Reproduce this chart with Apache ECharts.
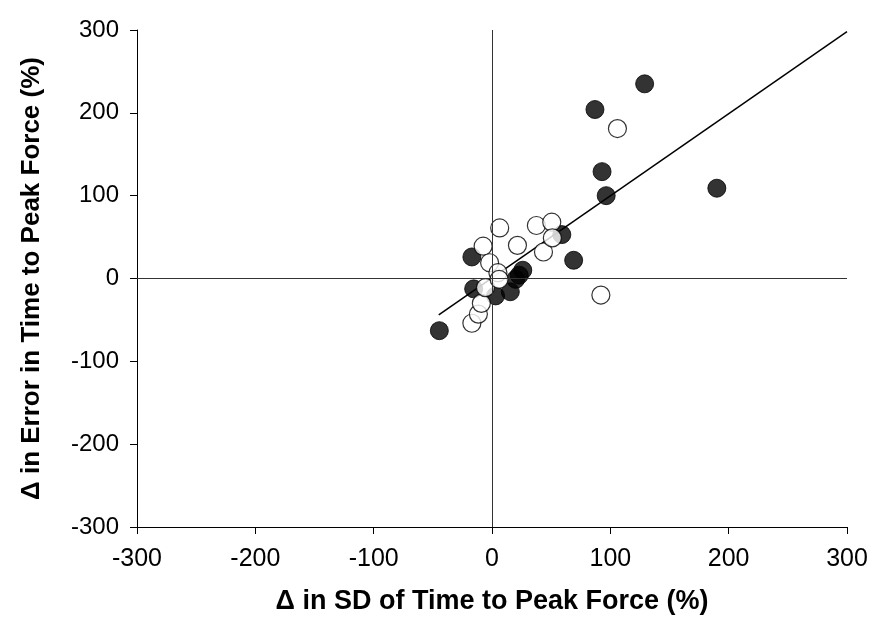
<!DOCTYPE html>
<html>
<head>
<meta charset="utf-8">
<script src="https://cdn.jsdelivr.net/npm/echarts@6/dist/echarts.min.js"></script>
<style>
html,body{margin:0;padding:0;background:#fff;}
#chart{width:875px;height:636px;}
</style>
</head>
<body>
<div id="chart"></div>
<script>
// Filled circles: [x, y]
const filledX = [-44.5, -17, -15.5, 3, 15.5, 20, 23, 26, 59, 69, 87, 93, 96.5, 129, 190];
const filledY = [-63, 26, -12.5, -21, -16, -1, 4, 10, 53, 22, 204, 129, 100, 235, 109];
// Open circles: [x, y]
const openX = [-17, -11.5, -9, -5.5, -7.5, -2, 5, 6, 6.5, 21.5, 37.5, 43.5, 50.5, 51, 92, 106];
const openY = [-54, -43, -30, -11, 39, 19, 7, -1, 61, 40, 64, 32, 68, 49, -20, 181];
// Regression line endpoints
const lineX = [-45, 300];
const lineY = [-44, 298];
const tickValues = [-300, -200, -100, 0, 100, 200, 300];

const zip = (a, b) => a.map((v, i) => [v, b[i]]);
const chart = echarts.init(document.getElementById('chart'));
const font = 'Liberation Sans, Arial, sans-serif';
const axisCommon = {
  type: 'value', min: tickValues[0], max: tickValues[tickValues.length - 1], interval: 100,
  axisLine: { onZero: false, lineStyle: { color: '#000', width: 1 } },
  axisTick: { show: true, inside: false, length: 7, lineStyle: { color: '#000' } },
  splitLine: { show: false },
  nameLocation: 'middle'
};
chart.setOption({
  animation: false,
  backgroundColor: '#fff',
  grid: { left: 137, right: 28, top: 30, bottom: 109 },
  xAxis: Object.assign({}, axisCommon, {
    name: 'Δ in SD of Time to Peak Force (%)', nameGap: 61,
    nameTextStyle: { fontFamily: font, fontWeight: 'bold', fontSize: 27, color: '#000' },
    axisLabel: { fontFamily: font, fontSize: 25, color: '#000', margin: 20 }
  }),
  yAxis: Object.assign({}, axisCommon, {
    name: 'Δ in Error in Time to Peak Force (%)', nameGap: 92,
    nameTextStyle: { fontFamily: font, fontWeight: 'bold', fontSize: 26, color: '#000' },
    axisLabel: { fontFamily: font, fontSize: 24, color: '#000', margin: 18 }
  }),
  series: [
    {
      type: 'line', data: zip(lineX, lineY), symbol: 'none', z: 1,
      lineStyle: { color: '#000', width: 1.5 },
      markLine: {
        silent: true, symbol: 'none', label: { show: false },
        lineStyle: { color: '#333', width: 1, type: 'solid' },
        data: [{ xAxis: 0 }, { yAxis: 0 }]
      }
    },
    {
      type: 'scatter', data: zip(filledX, filledY), symbol: 'circle', symbolSize: 18, z: 2,
      itemStyle: { color: '#000', borderColor: '#000', borderWidth: 1 }
    },
    {
      type: 'scatter', data: zip(openX, openY), symbol: 'circle', symbolSize: 18, z: 3,
      itemStyle: { color: '#fff', borderColor: '#000', borderWidth: 1.2 }
    }
  ]
});
</script>
</body>
</html>
